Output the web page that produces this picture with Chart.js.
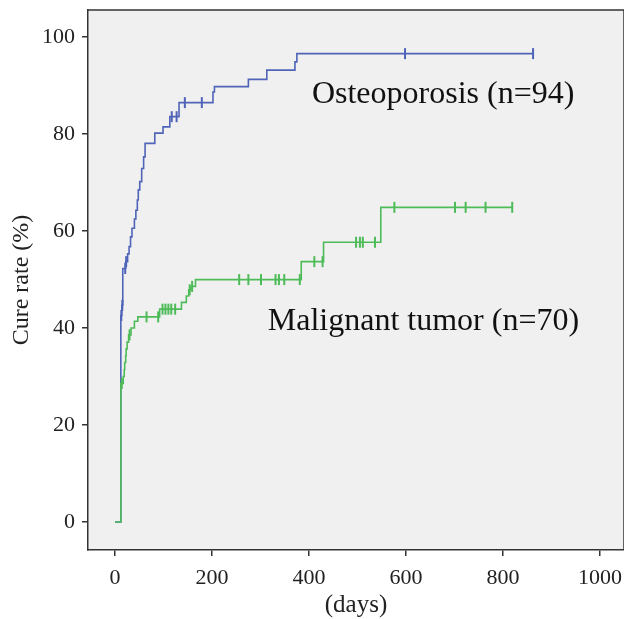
<!DOCTYPE html>
<html>
<head>
<meta charset="utf-8">
<script src="https://cdn.jsdelivr.net/npm/chart.js@4"></script>
<style>
  html, body { margin: 0; padding: 0; background: #fff; }
</style>
</head>
<body>
<canvas id="chart" width="624" height="619"></canvas>
<script>
// Curva de osteoporosis (pasos Kaplan-Meier)
const osteoDays = [0, 12, 14, 16, 22, 26, 29, 32, 35, 40, 43, 46, 48, 51, 55, 59, 62, 82, 99, 113, 132, 202, 205, 275, 313, 371, 375, 862];
const osteoRate = [0, 42.6, 44.7, 52.3, 53.7, 55.3, 56.8, 58.8, 60.6, 62.5, 64.3, 66.4, 68.5, 70.2, 72.9, 75.3, 78.1, 80.2, 81.5, 83.6, 86.5, 88.7, 89.8, 91.3, 93.2, 94.9, 96.6, 96.6];
const osteoCensorDays = [13, 15, 21, 23, 117, 127, 144, 179, 598, 862];
const osteoCensorRate = [42.6, 44.7, 52.3, 53.7, 83.6, 83.6, 86.5, 86.5, 96.6, 96.6];

// Curva de tumor maligno
const tumorDays = [0, 12, 17, 19, 20, 22, 23, 25, 28, 33, 40, 47, 92, 137, 147, 152, 157, 166, 384, 430, 548, 819];
const tumorRate = [0, 28.6, 30.0, 31.4, 32.9, 34.3, 35.7, 37.1, 38.6, 40.0, 41.4, 42.3, 43.9, 45.3, 46.6, 47.9, 48.6, 50.0, 53.7, 57.7, 64.9, 64.9];
const tumorCensorDays = [14, 30, 65, 89, 98, 104, 110, 116, 124, 154, 159, 256, 275, 301, 331, 338, 349, 381, 411, 428, 497, 505, 511, 536, 576, 701, 723, 764, 819];
const tumorCensorRate = [28.6, 38.6, 42.3, 42.3, 43.9, 43.9, 43.9, 43.9, 43.9, 47.9, 48.6, 50, 50, 50, 50, 50, 50, 50, 53.7, 53.7, 57.7, 57.7, 57.7, 57.7, 64.9, 64.9, 64.9, 64.9, 64.9];

const xTicks = [0, 200, 400, 600, 800, 1000];
const yTicks = [0, 20, 40, 60, 80, 100];

const curveLabels = [
    { text: 'Osteoporosis (n=94)', x: 406, y: 86.4 },
    { text: 'Malignant tumor (n=70)', x: 315, y: 39.6 }
];

const BLUE = '#4f64b8';
const GREEN = '#4dbb58';
const SERIF = '"Liberation Serif", "Times New Roman", serif';

const pts = (xs, ys) => xs.map((x, i) => ({ x: x, y: ys[i] }));

// Fondo gris del área y marco
const plotBackground = {
    id: 'plotBackground',
    beforeDraw(chart) {
        const { ctx, chartArea: a } = chart;
        ctx.save();
        ctx.fillStyle = '#fff';
        ctx.fillRect(0, 0, chart.width, chart.height);
        ctx.fillStyle = '#f0f0f0';
        ctx.fillRect(a.left, a.top, a.right - a.left, a.bottom - a.top);
        ctx.strokeStyle = '#333';
        ctx.lineWidth = 1.5;
        ctx.beginPath();
        ctx.moveTo(a.left, a.top);
        ctx.lineTo(a.right, a.top);
        ctx.lineTo(a.right, a.bottom);
        ctx.stroke();
        ctx.restore();
    }
};

// Etiquetas de las curvas
const curveText = {
    id: 'curveText',
    afterDatasetsDraw(chart) {
        const { ctx, scales } = chart;
        ctx.save();
        ctx.font = '32px ' + SERIF;
        ctx.fillStyle = '#111';
        ctx.textBaseline = 'alphabetic';
        ctx.textAlign = 'left';
        curveLabels.forEach(l => {
            ctx.fillText(l.text, scales.x.getPixelForValue(l.x), scales.y.getPixelForValue(l.y));
        });
        ctx.restore();
    }
};

new Chart(document.getElementById('chart'), {
    type: 'line',
    data: {
        datasets: [
            { data: pts(tumorDays, tumorRate), borderColor: GREEN, borderWidth: 1.6, stepped: true, pointRadius: 0, fill: false },
            { data: pts(tumorCensorDays, tumorCensorRate), showLine: false, pointStyle: 'line', rotation: 90, pointRadius: 5.5, borderColor: GREEN, borderWidth: 2 },
            { data: pts(osteoDays, osteoRate), borderColor: BLUE, borderWidth: 1.6, stepped: true, pointRadius: 0, fill: false },
            { data: pts(osteoCensorDays, osteoCensorRate), showLine: false, pointStyle: 'line', rotation: 90, pointRadius: 5.5, borderColor: BLUE, borderWidth: 2 }
        ]
    },
    options: {
        responsive: false,
        animation: false,
        layout: { autoPadding: false, padding: { top: 10, right: 0, left: 0, bottom: 0 } },
        plugins: { legend: { display: false }, tooltip: { enabled: false } },
        scales: {
            x: {
                type: 'linear',
                min: -55.7,
                max: 1049.5,
                afterBuildTicks: s => { s.ticks = xTicks.map(v => ({ value: v })); },
                afterFit: s => { s.height = 69; s.paddingLeft = 0; s.paddingRight = 0; },
                ticks: { font: { family: SERIF, size: 22 }, color: '#222', padding: 9, maxRotation: 0, autoSkip: false, callback: v => String(v) },
                grid: { drawOnChartArea: false, tickLength: 6, color: '#333', lineWidth: 1.5 },
                border: { color: '#333', width: 1.5 },
                title: { display: true, text: '(days)', font: { family: SERIF, size: 25, lineHeight: 1 }, color: '#222', padding: { top: 0, bottom: 1 } }
            },
            y: {
                min: -5.77,
                max: 105.6,
                afterBuildTicks: s => { s.ticks = yTicks.map(v => ({ value: v })); },
                afterFit: s => { s.width = 88; s.paddingTop = 0; s.paddingBottom = 0; },
                ticks: { font: { family: SERIF, size: 22 }, color: '#222', padding: 7, callback: v => String(v) },
                grid: { drawOnChartArea: false, tickLength: 6, color: '#333', lineWidth: 1.5 },
                border: { color: '#333', width: 1.5 },
                title: { display: true, text: 'Cure rate (%)', font: { family: SERIF, size: 24, lineHeight: 1 }, color: '#222', padding: { top: 10, bottom: 0 } }
            }
        }
    },
    plugins: [plotBackground, curveText]
});
</script>
</body>
</html>
